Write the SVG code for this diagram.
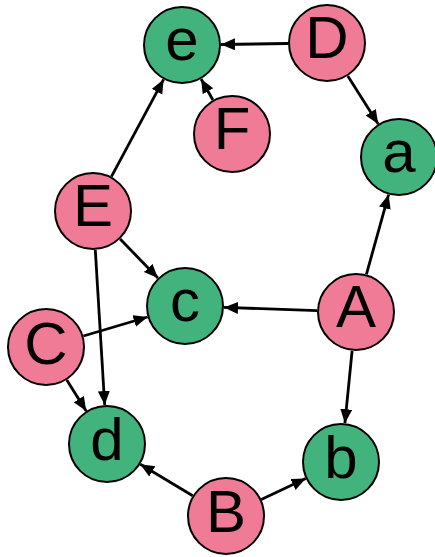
<svg xmlns="http://www.w3.org/2000/svg" width="435" height="557" viewBox="0 0 435 557">
<style>
.edge{stroke:#000;stroke-width:2.8;fill:none;marker-end:url(#arr)}
.g{fill:#42b37d;stroke:#000;stroke-width:2}
.p{fill:#f07b96;stroke:#000;stroke-width:2}
.t{font-family:"Liberation Sans",Arial,sans-serif;font-size:60px;text-anchor:middle;fill:#000}
</style>
<defs>
<marker id="arr" markerUnits="userSpaceOnUse" markerWidth="15" markerHeight="13" refX="14" refY="6" orient="auto">
<path d="M0,0 L14,6 L0,12 z" fill="#000"/>
</marker>
</defs>
<g id="connectors">
<line class="edge" x1="288" y1="43.5" x2="221" y2="44.5"/>
<line class="edge" x1="347.8" y1="76" x2="378.2" y2="124"/>
<line class="edge" x1="212.9" y1="100" x2="201.1" y2="79"/>
<line class="edge" x1="111.4" y1="176.6" x2="163.6" y2="79.4"/>
<line class="edge" x1="120.1" y1="239" x2="157.9" y2="278"/>
<line class="edge" x1="95.3" y1="250" x2="104.7" y2="405"/>
<line class="edge" x1="83.4" y1="336" x2="147.6" y2="317"/>
<line class="edge" x1="66.8" y1="380" x2="86.2" y2="411"/>
<line class="edge" x1="317" y1="310.6" x2="224" y2="307.4"/>
<line class="edge" x1="366.4" y1="274.4" x2="388.6" y2="194.6"/>
<line class="edge" x1="352.1" y1="350.8" x2="344.9" y2="423.2"/>
<line class="edge" x1="192.7" y1="495.8" x2="140.3" y2="464.2"/>
<line class="edge" x1="261.3" y1="499.4" x2="305.7" y2="478.6"/>
</g>
<g id="node-e"><circle class="g" cx="182" cy="45" r="38"/><text class="t" x="182" y="60">e</text></g>
<g id="node-D"><circle class="p" cx="327" cy="43" r="38"/><text class="t" x="327" y="58">D</text></g>
<g id="node-F"><circle class="p" cx="232" cy="134" r="38"/><text class="t" x="232" y="149">F</text></g>
<g id="node-a"><circle class="g" cx="399" cy="157" r="38"/><text class="t" x="399" y="172">a</text></g>
<g id="node-E"><circle class="p" cx="93" cy="211" r="38"/><text class="t" x="93" y="226">E</text></g>
<g id="node-c"><circle class="g" cx="185" cy="306" r="38"/><text class="t" x="185" y="321">c</text></g>
<g id="node-A"><circle class="p" cx="356" cy="312" r="38"/><text class="t" x="356" y="327">A</text></g>
<g id="node-C"><circle class="p" cx="46" cy="347" r="38"/><text class="t" x="46" y="364">C</text></g>
<g id="node-d"><circle class="g" cx="107" cy="444" r="38"/><text class="t" x="107" y="460">d</text></g>
<g id="node-b"><circle class="g" cx="341" cy="462" r="38"/><text class="t" x="341" y="478">b</text></g>
<g id="node-B"><circle class="p" cx="226" cy="516" r="38"/><text class="t" x="226" y="532">B</text></g>
</svg>
